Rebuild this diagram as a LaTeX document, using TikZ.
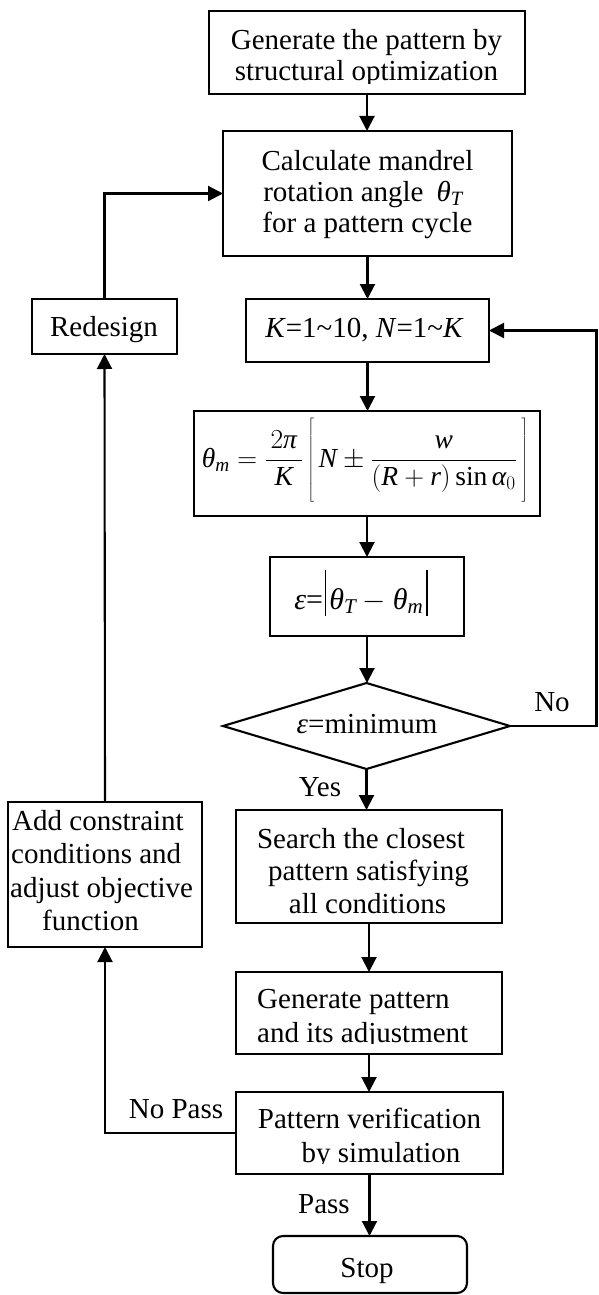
\documentclass[tikz,border=0pt]{standalone}
\usepackage{fix-cm}
\usepackage{fontspec}
\setmainfont{Liberation Serif}
\usetikzlibrary{arrows.meta,shapes.geometric}
% italic Greek letters taken from the text font
\newcommand{\grk}[1]{\mbox{\itshape #1}}
% thin upright bar used as absolute-value delimiter
\newcommand{\absbar}{\rule[-7pt]{1.3pt}{46pt}}
\tikzset{
  box/.style={draw, line width=2.1pt, inner sep=0pt, outer sep=0pt},
  lbl/.style={font=\fontsize{29}{31}\selectfont, inner sep=0pt, anchor=base},
  lblw/.style={lbl, anchor=base west},
  flow/.style={line width=2.1pt, -{Triangle[length=15pt,width=15pt]}},
}
\begin{document}
\begin{tikzpicture}[x=1pt,y=-1pt]
\useasboundingbox (0,0) rectangle (598,1295);

% ---- boxes ----
\node[box, minimum width=316pt, minimum height=83pt]  (gen)    at (367,52.5)   {};
\node[box, minimum width=289pt, minimum height=125pt] (calc)   at (367.5,193.5) {};
\node[box, minimum width=243pt, minimum height=63pt]  (kn)     at (367.5,330.5) {};
\node[box, minimum width=346pt, minimum height=105pt] (form)   at (367,463.5)  {};
\node[box, minimum width=194pt, minimum height=79pt]  (err)    at (367,596.5)  {};
\node[box, diamond, minimum width=287pt, minimum height=86pt] (dec) at (366.5,726) {};
\node[box, minimum width=145pt, minimum height=55pt]  (redo)   at (104.5,326.5) {};
\node[box, minimum width=194pt, minimum height=145pt] (adj)    at (105,874.5)  {};
\node[box, minimum width=266pt, minimum height=113pt] (search) at (369,866.5)  {};
\node[box, minimum width=266pt, minimum height=82pt]  (make)   at (369,1013)   {};
\node[box, minimum width=267pt, minimum height=82pt]  (verify) at (369.5,1133) {};
\node[box, rounded corners=10pt, minimum width=194pt, minimum height=57pt] (stop) at (370,1264.5) {};

% ---- texts ----
\node[lbl] (gen-a) at (366.5,50) {Generate the pattern by};
\begin{scope}
  \clip (0,0) rectangle (598,83.5);
  \node[lbl] (gen-b) at (366.5,81) {structural optimization};
\end{scope}

\node[lbl] (calc-a) at (367.5,170) {Calculate mandrel};
\node[lbl] (calc-b) at (363,201) {rotation angle\hspace{0.45em}$\grk{θ}_{\mathit{T}}$};
\node[lbl] (calc-c) at (367.5,232) {for a pattern cycle};

\node[lbl] (kn-t) at (364.5,337) {\textit{K}=1\textasciitilde10, \textit{N}=1\textasciitilde\textit{K}};

\node[lbl, font=\fontsize{27.5}{32}\selectfont] (form-t) at (365,467)
  {$\displaystyle\grk{θ}_{\mathit{m}}=\frac{\,2\grk{π}\,}{\mathit{K}}\left[\rule[-36pt]{0pt}{86pt}\,\mathit{N}\pm\frac{\mathit{w}}{(\mathit{R}+\mathit{r})\sin\grk{α}_{0}}\,\right]$};

\node[lbl, font=\fontsize{30}{32}\selectfont] (err-t) at (361,609)
  {\grk{ε}=\hspace{2pt}\absbar\hspace{3pt}$\grk{θ}_{\mathit{T}}-\grk{θ}_{\mathit{m}}$\hspace{3pt}\absbar};

\node[lbl] (dec-t) at (367,733) {\grk{ε}=minimum};

\node[lbl] (redo-t) at (104,336) {Redesign};

\node[lblw] (adj-a) at (12,830) {Add constraint};
\node[lblw] (adj-b) at (11,863) {conditions and};
\node[lblw] (adj-c) at (10,897) {adjust objective};
\node[lblw] (adj-d) at (42,930) {function};

\node[lbl] (search-a) at (361,848) {Search the closest};
\node[lbl] (search-b) at (368.5,880) {pattern satisfying};
\begin{scope}
  \clip (0,0) rectangle (598,913.5);
  \node[lbl] (search-c) at (367.5,913) {all conditions};
\end{scope}

\node[lblw] (make-a) at (257,1008) {Generate pattern};
\begin{scope}
  \clip (0,0) rectangle (598,1043.5);
  \node[lblw] (make-b) at (257,1042) {and its adjustment};
\end{scope}

\node[lbl] (verify-a) at (369.5,1128) {Pattern verification};
\begin{scope}
  \clip (0,0) rectangle (598,1163.5);
  \node[lbl] (verify-b) at (381,1162) {by simulation};
\end{scope}

\node[lbl] (stop-t) at (367,1277) {Stop};

% ---- branch labels ----
\node[lbl] (no)     at (552,711)  {No};
\node[lbl] (yes)    at (320,796)  {Yes};
\node[lbl] (nopass) at (176,1118) {No Pass};
\node[lbl] (pass)   at (324,1213) {Pass};

% ---- main flow ----
\draw[flow] (gen.south)    -- (gen.south |- calc.north);
\draw[flow] (calc.south)   -- (calc.south |- kn.north);
\draw[flow] (kn.south)     -- (kn.south |- form.north);
\draw[flow] (form.south)   -- (form.south |- err.north);
\draw[flow] (err.south)    -- (err.south |- dec.north);
\draw[flow] (dec.south)    -- (dec.south |- search.north);
\draw[flow] (search.south) -- (search.south |- make.north);
\draw[flow] (make.south)   -- (make.south |- verify.north);
\draw[flow] (verify.south) -- (verify.south |- stop.north);

% ---- loop back when not minimal ----
\coordinate (rt) at (596.5,0);
\draw[flow] (dec.east) -- (dec.east -| rt) -- (rt |- kn.east) -- (kn.east);

% ---- redesign loop ----
\draw[flow] (verify.west) -| (adj.south);
\draw[flow] (adj.north) -- (redo.south);
\draw[flow] (redo.north) |- (calc.west);
\end{tikzpicture}
\end{document}
